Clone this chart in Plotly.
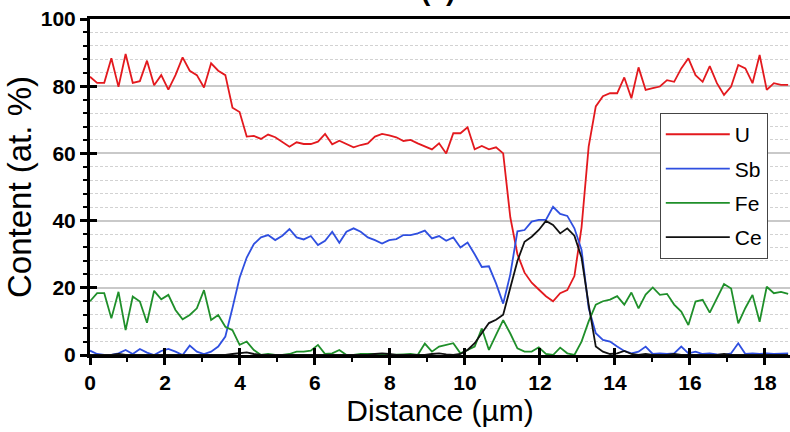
import plotly.graph_objects as go

# Line-scan sampling: 99 points, 0.19 µm apart
step_um = 0.19
distance = [round(i * step_um, 2) for i in range(99)]

u_content = [
    82.8, 81.0, 81.0, 88.3, 79.8, 89.6, 81.0, 81.5, 87.6, 80.3,
    83.3, 79.0, 83.3, 88.6, 84.6, 83.3, 79.6, 86.8, 84.6, 83.3,
    73.6, 72.3, 65.0, 65.2, 64.3, 65.6, 64.8, 63.5, 62.0, 63.3,
    62.8, 62.8, 63.5, 65.8, 62.7, 63.8, 62.7, 61.8, 62.5, 63.0,
    65.0, 65.8, 65.4, 64.8, 63.7, 64.0, 63.0, 62.2, 61.2, 63.0,
    60.0, 66.0, 66.0, 67.8, 61.2, 62.2, 61.2, 61.8, 60.0, 41.0,
    30.0, 24.5, 21.5, 19.5, 17.5, 16.0, 18.4, 19.3, 23.5, 38.0,
    62.0, 74.0, 77.0, 77.9, 77.9, 82.6, 76.4, 85.6, 78.9, 79.4,
    79.9, 81.8, 81.3, 85.3, 88.3, 83.3, 81.3, 86.0, 80.9, 77.4,
    79.9, 86.3, 85.3, 80.9, 89.3, 78.9, 80.9, 80.4, 80.4,
]

sb_content = [
    1.3, 0.3, 0.0, 0.0, 0.5, 1.5, 0.3, 1.8, 0.7, 0.0,
    1.2, 1.8, 1.0, 0.0, 2.8, 1.0, 0.3, 1.0, 2.5, 5.5,
    14.0, 23.0, 29.0, 33.0, 35.0, 35.7, 34.2, 35.5, 37.5, 35.0,
    34.4, 35.4, 32.7, 34.0, 36.7, 33.4, 36.7, 37.7, 36.7, 35.0,
    34.2, 33.2, 34.2, 34.5, 35.7, 35.7, 36.2, 37.0, 34.7, 35.4,
    34.0, 35.0, 32.0, 33.5, 30.0, 26.2, 26.4, 21.3, 15.3, 24.0,
    36.8, 37.2, 39.7, 40.2, 40.2, 44.1, 42.0, 41.4, 37.7, 31.3,
    14.0, 6.5, 4.5, 4.0, 2.5, 1.2, 0.5, 1.0, 2.5, 0.3,
    0.5, 0.3, 0.5, 2.5, 0.5, 1.0, 0.3, 0.5, 0.2, 0.0,
    0.5, 3.5, 0.3, 0.5, 0.3, 0.5, 0.3, 0.5, 0.5,
]

fe_content = [
    16.0, 18.4, 18.4, 10.9, 18.8, 7.4, 17.4, 15.9, 9.6, 19.1,
    16.6, 17.9, 13.4, 10.6, 11.9, 13.9, 19.3, 10.4, 11.9, 8.4,
    7.4, 3.0, 4.0, 1.5, 0.0, 0.3, 0.0, 0.0, 0.3, 1.0,
    1.0, 1.3, 3.0, 0.3, 0.5, 1.5, 0.0, 0.0, 0.3, 0.3,
    0.3, 0.3, 0.0, 0.0, 0.2, 0.3, 0.0, 3.4, 1.0, 2.5,
    3.0, 3.5, 0.5, 1.5, 2.5, 7.9, 1.5, 6.0, 10.4, 6.4,
    2.0, 1.0, 1.0, 2.3, 0.3, 0.0, 2.2, 0.5, 0.0, 4.0,
    10.0, 15.0, 16.0, 16.5, 17.5, 15.0, 18.6, 13.9, 18.0, 20.1,
    17.9, 18.2, 15.0, 12.9, 8.9, 15.9, 16.4, 12.6, 17.0, 21.1,
    19.8, 9.4, 14.0, 17.9, 9.9, 20.3, 18.4, 18.8, 18.2,
]

ce_content = [
    0.0, 0.0, 0.0, 0.0, 0.3, 0.0, 0.0, 0.0, 0.0, 0.0,
    0.0, 0.0, 0.0, 0.0, 0.0, 0.0, 0.0, 0.0, 0.0, 0.0,
    0.3, 0.5, 0.8, 0.3, 0.0, 0.0, 0.0, 0.0, 0.0, 0.0,
    0.0, 0.0, 0.0, 0.0, 0.0, 0.0, 0.0, 0.0, 0.0, 0.0,
    0.3, 0.5, 0.3, 0.0, 0.0, 0.0, 0.0, 0.0, 0.3, 0.5,
    0.2, 0.0, 0.3, 1.5, 3.5, 6.5, 9.5, 10.5, 12.0, 20.0,
    28.0, 33.7, 35.2, 37.2, 39.9, 38.7, 36.2, 37.7, 35.5, 29.0,
    15.0, 2.5, 1.0, 0.3, 0.5, 1.2, 0.3, 0.0, 0.3, 0.0,
    0.0, 0.0, 0.3, 0.0, 0.0, 0.0, 0.0, 0.0, 0.0, 0.3,
    0.0, 0.0, 0.0, 0.0, 0.0, 0.0, 0.0, 0.0, 0.0,
]

element_names = ["U", "Sb", "Fe", "Ce"]
element_colors = ["#e3191e", "#2f4fe0", "#1f8f2a", "#111111"]
element_values = [u_content, sb_content, fe_content, ce_content]

x_range = [0, 18.67]
y_range = [0, 100]

fig = go.Figure()
for name, vals, color in zip(element_names, element_values, element_colors):
    fig.add_trace(go.Scatter(
        x=distance, y=vals, name=name, mode="lines",
        legendgroup=name,
        line=dict(color=color, width=1.8),
    ))

# empty trace so the overlay axes (inward half of the major ticks) are drawn
fig.add_trace(go.Scatter(x=[None], y=[None], xaxis="x2", yaxis="y2",
                         showlegend=False, hoverinfo="skip"))

tick_font = dict(family="Liberation Sans, Arial, sans-serif", size=21,
                 color="black", weight="bold")

fig.update_layout(
    width=790, height=432,
    margin=dict(l=90, r=0, t=19, b=77),
    paper_bgcolor="white", plot_bgcolor="white",
    font=dict(family="Liberation Sans, Arial, sans-serif", color="black"),
    xaxis=dict(
        range=x_range, tick0=0, dtick=2,
        ticks="outside", ticklen=7, tickwidth=2.5, tickcolor="black",
        showline=True, linewidth=3, linecolor="black", mirror=True,
        showgrid=False, zeroline=False, tickfont=tick_font,
        minor=dict(dtick=1, tick0=0, ticks="outside", ticklen=4,
                   tickwidth=2, tickcolor="black", showgrid=False),
        title=dict(text="Distance (µm)", font=dict(size=30), standoff=0),
    ),
    yaxis=dict(
        range=y_range, tick0=0, dtick=20,
        ticks="outside", ticklen=7, tickwidth=2.5, tickcolor="black",
        showline=True, linewidth=3, linecolor="black", mirror=False,
        showgrid=True, gridcolor="#c9c9c9", gridwidth=1.5,
        zeroline=False, tickfont=tick_font,
        minor=dict(dtick=4, tick0=0, ticks="outside", ticklen=4,
                   tickwidth=2, tickcolor="black", showgrid=True,
                   gridcolor="#d2d2d2", gridwidth=1, griddash="3px,2px"),
        title=dict(text="Content (at. %)", font=dict(size=33), standoff=0),
    ),
    xaxis2=dict(
        overlaying="x", anchor="y2", side="bottom", range=x_range,
        tick0=0, dtick=2, ticks="inside", ticklen=7, tickwidth=2.5,
        tickcolor="black", showticklabels=False, showgrid=False,
        showline=False, zeroline=False,
    ),
    yaxis2=dict(
        overlaying="y", anchor="x2", side="left", range=y_range,
        tick0=0, dtick=20, ticks="inside", ticklen=7, tickwidth=2.5,
        tickcolor="black", showticklabels=False, showgrid=False,
        showline=False, zeroline=False,
    ),
    legend=dict(
        x=0.814, y=0.72, xanchor="left", yanchor="top",
        bgcolor="white", bordercolor="#444444", borderwidth=1,
        font=dict(size=21, color="black"),
        itemwidth=64, tracegroupgap=4,
    ),
    annotations=[dict(
        text="(c)", xref="paper", yref="paper", x=0.497, y=1.033,
        xanchor="center", yanchor="bottom", showarrow=False,
        font=dict(size=28, weight="bold", color="black"),
    )],
)

fig.write_html("out.html")
